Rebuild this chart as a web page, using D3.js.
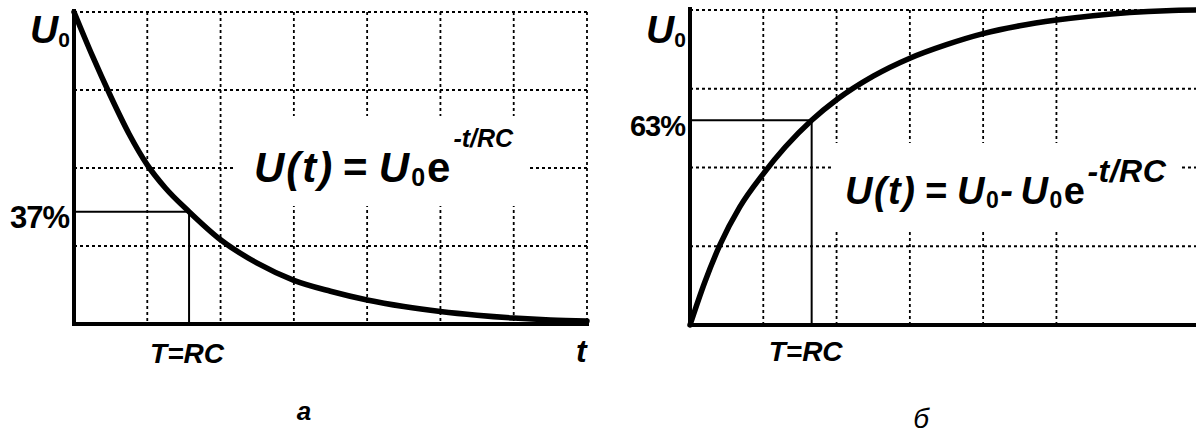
<!DOCTYPE html>
<html>
<head>
<meta charset="utf-8">
<script src="https://cdn.jsdelivr.net/npm/d3@7"></script>
<style>
  body { margin: 0; background: #fff; }
  text { font-family: "Liberation Sans", Arial, sans-serif; fill: #000; }
  .bi { font-weight: bold; font-style: italic; }
  .grid { stroke: #000; stroke-width: 1.8; stroke-dasharray: 3,3; fill: none; }
</style>
</head>
<body>
<script>
// time in grid divisions, voltage as fraction of U0
var dischargeT = [0, 0.25, 0.5, 0.75, 1, 1.25, 1.57, 2, 2.5, 3, 3.5, 4, 4.5, 5, 5.5, 6, 6.5, 7];
var dischargeU = [1, 0.86, 0.73, 0.61, 0.51, 0.435, 0.36, 0.27, 0.195, 0.14, 0.105, 0.077, 0.056, 0.04, 0.028, 0.019, 0.013, 0.01];

var chargeT = [0, 0.2, 0.41, 0.68, 1, 1.3, 1.66, 2, 2.5, 3, 3.5, 4, 4.5, 5, 5.5, 6, 6.5, 7];
var chargeU = [0, 0.135, 0.255, 0.375, 0.48, 0.565, 0.65, 0.715, 0.79, 0.847, 0.89, 0.925, 0.95, 0.968, 0.982, 0.992, 0.998, 1];

// time constant marks
var leftMark = { t: 1.57, u: 0.36, label: "37%" };
var rightMark = { t: 1.66, u: 0.65, label: "63%" };

var gridU = [0.25, 0.5, 0.75, 1];
var leftGridT = [1, 2, 3, 4, 5, 6, 7];
var rightGridT = [1, 2, 3, 4, 5];

var svgWidth = 1196;
var svgHeight = 433;

var svg = d3.select("body")
  .append("svg")
  .attr("width", svgWidth)
  .attr("height", svgHeight);

function drawPanel(opt) {
  var x = d3.scaleLinear().domain([0, 7]).range(opt.xRange);
  var y = d3.scaleLinear().domain([0, 1]).range(opt.yRange);
  var g = svg.append("g");
  var right = opt.xEnd;

  // dotted grid
  g.selectAll(".hgrid").data(gridU).enter()
    .append("line")
    .attr("class", "grid")
    .attr("x1", x(0)).attr("x2", right)
    .attr("y1", d => y(d)).attr("y2", d => y(d));

  g.selectAll(".vgrid").data(opt.gridT).enter()
    .append("line")
    .attr("class", "grid")
    .attr("x1", d => x(d)).attr("x2", d => x(d))
    .attr("y1", y(1)).attr("y2", y(0));

  // white box behind the formula
  g.append("rect")
    .attr("x", opt.mask[0]).attr("y", opt.mask[1])
    .attr("width", opt.mask[2]).attr("height", opt.mask[3])
    .attr("fill", "#fff");

  // time constant lines
  g.append("line")
    .attr("x1", x(0)).attr("x2", x(opt.mark.t))
    .attr("y1", y(opt.mark.u)).attr("y2", y(opt.mark.u))
    .attr("stroke", "#000").attr("stroke-width", 2);
  g.append("line")
    .attr("x1", x(opt.mark.t)).attr("x2", x(opt.mark.t))
    .attr("y1", y(opt.mark.u)).attr("y2", y(0))
    .attr("stroke", "#000").attr("stroke-width", 2);

  // axes
  g.append("line")
    .attr("x1", x(0)).attr("x2", x(0))
    .attr("y1", y(1) - 3).attr("y2", y(0) + 2)
    .attr("stroke", "#000").attr("stroke-width", 4);
  g.append("line")
    .attr("x1", x(0) - 2).attr("x2", right)
    .attr("y1", y(0)).attr("y2", y(0))
    .attr("stroke", "#000").attr("stroke-width", 4);

  // curve
  var pts = opt.t.map((d, i) => [d, opt.u[i]]);
  var line = d3.line()
    .x(d => x(d[0]))
    .y(d => y(d[1]))
    .curve(d3.curveMonotoneX);
  g.append("path")
    .datum(pts)
    .attr("d", line)
    .attr("fill", "none")
    .attr("stroke", "#000")
    .attr("stroke-width", 5.5)
    .attr("stroke-linecap", "round");

  // U0 label
  var u0 = g.append("text").attr("class", "bi")
    .attr("x", x(0) - 44).attr("y", 43)
    .attr("font-size", 39);
  u0.append("tspan").text("U");
  u0.append("tspan").attr("font-size", 21).attr("dy", 4).attr("font-style", "normal").text("0");

  // percent label
  g.append("text")
    .attr("x", x(0) - 5).attr("y", opt.pctY)
    .attr("text-anchor", "end")
    .attr("font-weight", "bold")
    .attr("font-size", opt.pctSize)
    .attr("letter-spacing", -1)
    .text(opt.mark.label);

  // T=RC
  g.append("text").attr("class", "bi")
    .attr("x", x(opt.mark.t) + opt.trcDx).attr("y", opt.trcY)
    .attr("text-anchor", "middle")
    .attr("font-size", 28)
    .text("T=RC");

  // panel letter
  g.append("text")
    .attr("x", opt.letter[0]).attr("y", opt.letter[1])
    .attr("text-anchor", "middle")
    .attr("font-style", "italic")
    .attr("font-weight", opt.letter[4])
    .attr("font-size", opt.letter[2])
    .text(opt.letter[3]);

  return { g: g, x: x, y: y };
}

var left = drawPanel({
  xRange: [74, 587], yRange: [324, 12], xEnd: 589,
  gridT: leftGridT, t: dischargeT, u: dischargeU, mark: leftMark,
  mask: [234, 116, 296, 90],
  pctY: 228, pctSize: 31, trcY: 363, trcDx: -2,
  letter: [304, 420, 26, "а", "bold"]
});

var right = drawPanel({
  xRange: [690, 1203], yRange: [325, 10], xEnd: 1196,
  gridT: rightGridT, t: chargeT, u: chargeU, mark: rightMark,
  mask: [832, 143, 348, 86],
  pctY: 136, pctSize: 29, trcY: 361, trcDx: -6,
  letter: [921, 428, 28, "б", "normal"]
});

// t axis label (left)
left.g.append("text").attr("class", "bi")
  .attr("x", 576).attr("y", 362)
  .attr("font-size", 32)
  .text("t");

// formulas
var f1 = left.g.append("text").attr("class", "bi")
  .attr("x", 254).attr("y", 182)
  .attr("font-size", 42)
  .attr("letter-spacing", 2);
f1.append("tspan").text("U(t)");
f1.append("tspan").attr("dx", 8).text("=");
f1.append("tspan").attr("dx", 10).text("U");
f1.append("tspan").attr("font-size", 25).attr("font-style", "normal").attr("dy", 4).text("0");
f1.append("tspan").attr("dy", -4).attr("font-style", "normal").text("e");
f1.append("tspan").attr("font-size", 25).attr("letter-spacing", 0).attr("dy", -35).attr("dx", 1).text("-t/RC");

var f2 = right.g.append("text").attr("class", "bi")
  .attr("x", 845).attr("y", 204)
  .attr("font-size", 38)
  .attr("letter-spacing", 1.5);
f2.append("tspan").text("U(t)");
f2.append("tspan").attr("dx", 8).text("=");
f2.append("tspan").attr("dx", 9).text("U");
f2.append("tspan").attr("font-size", 23).attr("font-style", "normal").attr("dy", 4).text("0");
f2.append("tspan").attr("dy", -4).text("-");
f2.append("tspan").attr("dx", 6).text("U");
f2.append("tspan").attr("font-size", 23).attr("font-style", "normal").attr("dy", 4).text("0");
f2.append("tspan").attr("dy", -4).attr("font-style", "normal").text("e");
f2.append("tspan").attr("font-size", 32).attr("letter-spacing", 0.5).attr("dy", -22).attr("dx", 1).text("-t/RC");
</script>
</body>
</html>
